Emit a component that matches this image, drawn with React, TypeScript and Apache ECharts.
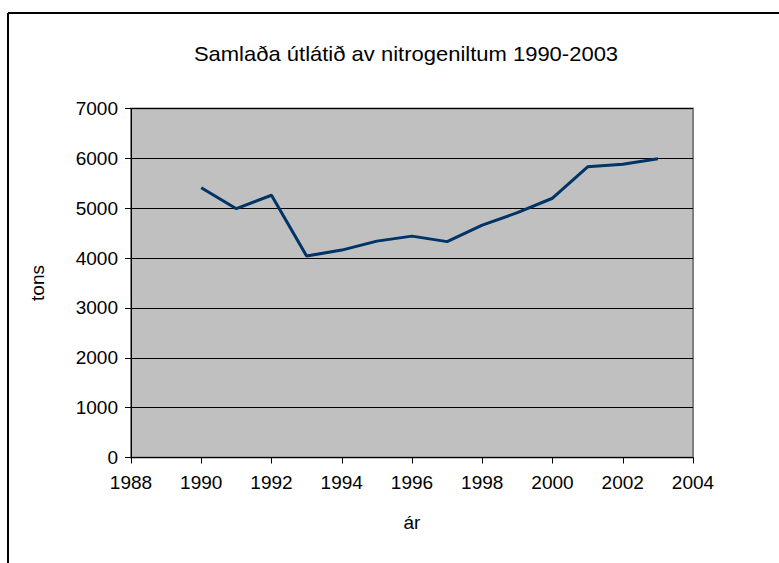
import React, { useEffect, useRef } from "react";
import * as echarts from "echarts";

const years = [1990, 1991, 1992, 1993, 1994, 1995, 1996, 1997, 1998, 1999, 2000, 2001, 2002, 2003];
const tons = [5410, 4990, 5260, 4040, 4160, 4340, 4440, 4330, 4660, 4910, 5200, 5830, 5880, 5990];
const titleText = "Samlaða útlátið av nitrogeniltum 1990-2003";
const yName = "tons";
const xName = "ár";

export default function App() {
  const ref = useRef<HTMLDivElement>(null);
  useEffect(() => {
    const chart = echarts.init(ref.current!, null, { renderer: "svg" });
    const font = "'Liberation Sans', Arial, sans-serif";
    chart.setOption({
      animation: false,
      backgroundColor: "#ffffff",
      textStyle: { fontFamily: font },
      graphic: [
        { type: "line", shape: { x1: 8, y1: 13, x2: 779, y2: 13 }, style: { stroke: "#000", lineWidth: 2 } },
        { type: "line", shape: { x1: 8, y1: 13, x2: 8, y2: 563 }, style: { stroke: "#000", lineWidth: 2 } },
        {
          type: "text",
          x: 406,
          y: 54,
          scaleX: 1.1,
          style: {
            text: titleText,
            fontFamily: font,
            fontSize: 20,
            fill: "#000",
            textAlign: "center",
            textVerticalAlign: "middle",
          },
        },
      ],
      grid: {
        left: 131,
        top: 108.5,
        width: 562,
        height: 349,
        show: true,
        backgroundColor: "#C0C0C0",
        borderColor: "#808080",
        borderWidth: 2,
      },
      xAxis: {
        type: "value",
        min: 1988,
        max: 2004,
        interval: 2,
        name: xName,
        nameLocation: "middle",
        nameGap: 55,
        nameTextStyle: { fontFamily: font, fontSize: 19, color: "#000" },
        axisLine: { show: true, lineStyle: { color: "#000", width: 1 } },
        axisTick: { show: true, inside: false, length: 6, lineStyle: { color: "#000" } },
        axisLabel: { fontFamily: font, fontSize: 19, color: "#000", margin: 15, formatter: (v: number) => String(v) },
        splitLine: { show: false },
      },
      yAxis: {
        type: "value",
        min: 0,
        max: 7000,
        interval: 1000,
        name: yName,
        nameLocation: "middle",
        nameGap: 84,
        nameRotate: 90,
        nameTextStyle: { fontFamily: font, fontSize: 19, color: "#000" },
        axisLine: { show: true, lineStyle: { color: "#000", width: 1 } },
        axisTick: { show: true, inside: false, length: 6, lineStyle: { color: "#000" } },
        axisLabel: { fontFamily: font, fontSize: 19, color: "#000", margin: 13, formatter: (v: number) => String(v) },
        splitLine: { show: true, lineStyle: { color: "#000", width: 1 } },
      },
      series: [
        {
          type: "line",
          data: years.map((y, i) => [y, tons[i]]),
          symbol: "none",
          lineStyle: { color: "#003366", width: 3 },
          itemStyle: { color: "#003366" },
        },
      ],
    });
    return () => chart.dispose();
  }, []);
  return <div ref={ref} style={{ position: "absolute", left: 0, top: 0, width: 779, height: 563 }} />;
}
